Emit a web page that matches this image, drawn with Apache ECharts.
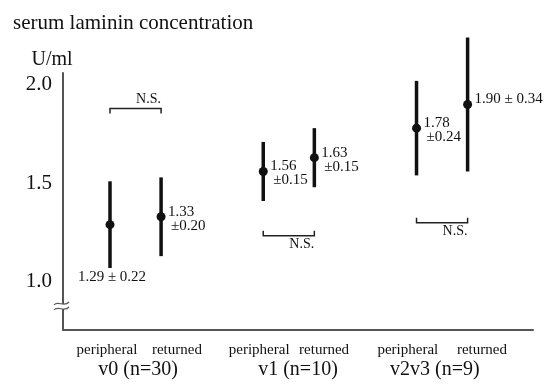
<!DOCTYPE html>
<html>
<head>
<meta charset="utf-8">
<script src="https://cdn.jsdelivr.net/npm/echarts@6/dist/echarts.min.js"></script>
<style>
  html, body { margin: 0; padding: 0; background: #fff; }
  #chart { width: 553px; height: 384px; }
</style>
</head>
<body>
<div id="chart"></div>
<script>
// chart data
const groupLabels = ['v0 (n=30)', 'v1 (n=10)', 'v2v3 (n=9)']
const siteLabels = ['peripheral', 'returned']
const means = [1.29, 1.33, 1.56, 1.63, 1.78, 1.90]
const sds = [0.22, 0.20, 0.15, 0.15, 0.24, 0.34]
// x slot of each mark (groups of two, one empty slot between groups)
const slots = [0, 1, 3, 4, 6, 7]
// N.S. comparisons: pair of slots and the level of the bracket
const nsPairs = [[0, 1], [3, 4], [6, 7]]
const nsLevels = [1.88, 1.234, 1.30]
const yTicks = [1.0, 1.5, 2.0]

// layout of the value labels
const labelModes = ['below', 'stack', 'stack', 'stack', 'stack', 'inline']
const nsSides = ['above', 'below', 'below']
const siteLabelPos = [-0.06, 1.31, 2.92, 4.19, 5.83, 7.28]
const groupLabelPos = [0.55, 3.68, 6.36]

const serif = '"Liberation Serif", "DejaVu Serif", serif'
const ink = '#111'

const chart = echarts.init(document.getElementById('chart'))

const errData = means.map((m, i) => [slots[i], m, sds[i], i])
const nsData = nsPairs.map((p, i) => [p[0], p[1], nsLevels[i], i])

const renderError = (params, api) => {
  const x = api.value(0)
  const m = api.value(1)
  const sd = api.value(2)
  const i = api.value(3)
  const top = api.coord([x, m + sd])
  const bot = api.coord([x, m - sd])
  const mid = api.coord([x, m])
  const font = '15px ' + serif
  const children = [
    {
      type: 'line',
      shape: { x1: top[0], y1: top[1], x2: bot[0], y2: bot[1] },
      style: { stroke: ink, lineWidth: 3.5 }
    },
    {
      type: 'circle',
      shape: { cx: mid[0], cy: mid[1], r: 4.5 },
      style: { fill: ink }
    }
  ]
  const mode = labelModes[i]
  if (mode === 'below') {
    children.push({
      type: 'text',
      style: {
        text: m.toFixed(2) + ' ± ' + sd.toFixed(2),
        x: mid[0] + 2, y: bot[1] + 2,
        align: 'center', verticalAlign: 'top', font, fill: ink
      }
    })
  } else if (mode === 'inline') {
    children.push({
      type: 'text',
      style: {
        text: m.toFixed(2) + ' ± ' + sd.toFixed(2),
        x: mid[0] + 7, y: mid[1] - 5,
        align: 'left', verticalAlign: 'middle', font, fill: ink
      }
    })
  } else {
    children.push({
      type: 'text',
      style: {
        text: m.toFixed(2),
        x: mid[0] + 7, y: mid[1] - 5,
        align: 'left', verticalAlign: 'middle', font, fill: ink
      }
    })
    children.push({
      type: 'text',
      style: {
        text: '±' + sd.toFixed(2),
        x: mid[0] + 10, y: mid[1] + 9,
        align: 'left', verticalAlign: 'middle', font, fill: ink
      }
    })
  }
  return { type: 'group', children }
}

const renderNS = (params, api) => {
  const a = api.coord([api.value(0), api.value(2)])
  const b = api.coord([api.value(1), api.value(2)])
  const i = api.value(3)
  const dir = nsSides[i] === 'above' ? 1 : -1
  const tick = 5 * dir
  return {
    type: 'group',
    children: [
      {
        type: 'polyline',
        shape: { points: [[a[0], a[1] + tick], [a[0], a[1]], [b[0], b[1]], [b[0], b[1] + tick]] },
        style: { stroke: '#222', lineWidth: 1.5, fill: null }
      },
      {
        type: 'text',
        style: {
          text: 'N.S.',
          x: (a[0] + b[0]) / 2 + 13,
          y: a[1] - 9 * dir,
          align: 'center', verticalAlign: 'middle',
          font: '14px ' + serif, fill: ink
        }
      }
    ]
  }
}

const option = {
  animation: false,
  title: {
    text: 'serum laminin concentration',
    left: 8,
    top: 8,
    textStyle: { fontFamily: serif, fontSize: 21, fontWeight: 'normal', color: ink }
  },
  grid: { left: 63, right: 20, top: 73, bottom: 54 },
  xAxis: [
    {
      type: 'value',
      min: -0.92,
      max: 8.28,
      splitLine: { show: false },
      axisTick: { show: false },
      axisLine: { show: true, onZero: false, lineStyle: { color: '#555', width: 2 } },
      axisLabel: {
        customValues: siteLabelPos,
        margin: 13,
        fontFamily: serif,
        fontSize: 15,
        color: ink,
        formatter: (v) => siteLabels[siteLabelPos.findIndex((p) => Math.abs(p - v) < 1e-6) % 2]
      }
    },
    {
      type: 'value',
      position: 'bottom',
      min: -0.92,
      max: 8.28,
      splitLine: { show: false },
      axisTick: { show: false },
      axisLine: { show: false, onZero: false },
      axisLabel: {
        customValues: groupLabelPos,
        margin: 30,
        fontFamily: serif,
        fontSize: 20,
        color: ink,
        formatter: (v) => groupLabels[groupLabelPos.findIndex((p) => Math.abs(p - v) < 1e-6)]
      }
    }
  ],
  yAxis: {
    type: 'value',
    min: 0.755,
    max: 2.06,
    name: 'U/ml',
    nameLocation: 'end',
    nameGap: 3,
    nameTextStyle: { fontFamily: serif, fontSize: 20, color: ink, align: 'center', padding: [0, 22, 0, 0] },
    splitLine: { show: false },
    axisTick: { show: false },
    axisLine: { show: true, onZero: false, lineStyle: { color: '#555', width: 2 } },
    axisLabel: {
      customValues: yTicks,
      margin: 11,
      fontFamily: serif,
      fontSize: 21,
      color: ink,
      formatter: (v) => v.toFixed(1)
    }
  },
  series: [
    {
      type: 'custom',
      clip: false,
      renderItem: renderError,
      data: errData
    },
    {
      type: 'custom',
      clip: false,
      renderItem: renderNS,
      data: nsData
    }
  ],
  graphic: [
    {
      type: 'rect',
      shape: { x: 60, y: 304, width: 6, height: 5 },
      style: { fill: '#fff' },
      z: 100
    },
    {
      type: 'bezierCurve',
      shape: { x1: 54, y1: 305, cpx1: 58, cpy1: 300, cpx2: 64, cpy2: 308, x2: 69, y2: 302 },
      style: { stroke: '#555', lineWidth: 1.2, fill: null },
      z: 101
    },
    {
      type: 'bezierCurve',
      shape: { x1: 54, y1: 310, cpx1: 58, cpy1: 305, cpx2: 64, cpy2: 313, x2: 69, y2: 307 },
      style: { stroke: '#555', lineWidth: 1.2, fill: null },
      z: 101
    }
  ]
}

chart.setOption(option)
</script>
</body>
</html>
